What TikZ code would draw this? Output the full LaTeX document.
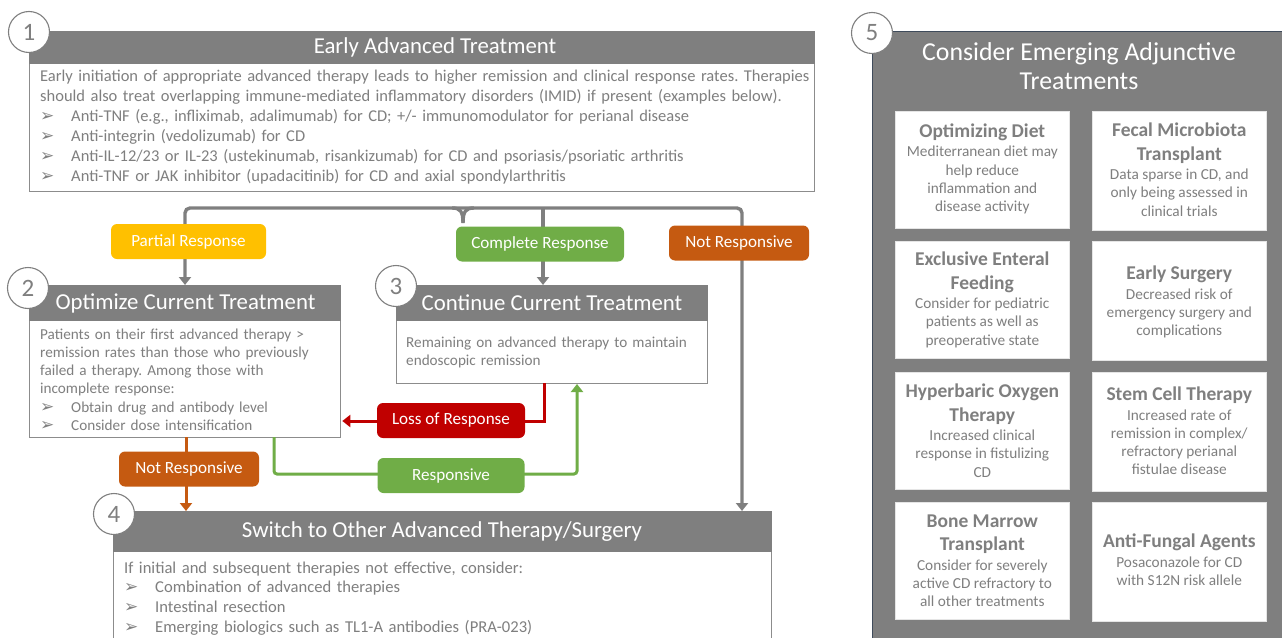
\documentclass[tikz,border=0pt]{standalone}
\usepackage{fontspec}
\setmainfont{Carlito}
\newfontfamily\dejavu{DejaVu Sans}
\usetikzlibrary{arrows.meta}
\definecolor{hdrgray}{HTML}{7F7F7F}
\definecolor{txtgray}{HTML}{7F7F7F}
\definecolor{bordergray}{HTML}{8C8C8C}
\definecolor{cgreen}{HTML}{70AD47}
\definecolor{cyellow}{HTML}{FFC000}
\definecolor{corange}{HTML}{C55A11}
\definecolor{cred}{HTML}{C00000}
\definecolor{panelgray}{HTML}{7F7F7F}
\definecolor{panelborder}{HTML}{3F4B5B}
\newcommand{\bul}{\makebox[31pt][l]{\dejavu\fontsize{17}{14}\selectfont ➢}}
\newcommand{\ibt}[1]{{\bfseries\fontsize{19.5}{22}\selectfont #1}}
\frenchspacing
\begin{document}
\begin{tikzpicture}[x=1pt,y=-1pt,
  hdr/.style={fill=hdrgray, draw=hdrgray, line width=1.3pt, anchor=north west, inner sep=0, text=white},
  bodybox/.style={fill=white, draw=bordergray, line width=1.3pt, anchor=north west, inner sep=0},
  numc/.style={circle, fill=white, draw=hdrgray, line width=1.1pt, minimum size=41pt, inner sep=0, text=txtgray, font=\fontsize{25}{25}\selectfont},
  lbl/.style={rounded corners=6pt, text=white, inner sep=0, minimum height=35pt, font=\fontsize{17.1}{17.1}\selectfont},
  conn/.style={line width=3.4pt, draw=hdrgray},
  tip/.style={-{Triangle[width=12pt,length=8pt]}},
  btxt/.style={anchor=north west, inner sep=0, align=left, text=txtgray},
  htxt/.style={text=white, inner sep=0, font=\fontsize{22.8}{22.8}\selectfont},
  ibox/.style={fill=white, draw=white!90!black, line width=0.6pt, anchor=north west, inner sep=0},
  itxt/.style={align=center, text=txtgray, inner sep=0, font=\fontsize{15.3}{18.3}\selectfont},
]
\useasboundingbox (0,0) rectangle (1282,637);
\clip (0,0) rectangle (1282,637);

% ---------- Box 1 ----------
\node[bodybox, minimum width=785pt, minimum height=128pt] (b1) at (29,63) {};
\node[hdr, minimum width=785pt, minimum height=32pt] (h1) at (29,31) {};
\node[htxt] (h1t) at (435,47) {Early Advanced Treatment};
\node[btxt, text width=780pt, font=\fontsize{16.5}{20}\selectfont] (t1) at (40,67.5) {\strut Early initiation of appropriate advanced therapy leads to higher remission and clinical response rates. Therapies\\
should also treat overlapping immune-mediated inflammatory disorders (IMID) if present (examples below).\\
\bul Anti-TNF (e.g., infliximab, adalimumab) for CD; +/- immunomodulator for perianal disease\\
\bul Anti-integrin (vedolizumab) for CD\\
\bul Anti-IL-12/23 or IL-23 (ustekinumab, risankizumab) for CD and psoriasis/psoriatic arthritis\\
\bul Anti-TNF or JAK inhibitor (upadacitinib) for CD and axial spondylarthritis};
\node[numc] (c1) at (29,32) {1};

% ---------- Box 2 ----------
\node[bodybox, minimum width=311pt, minimum height=117pt] (b2) at (29,320) {};
\node[hdr, minimum width=311pt, minimum height=35pt] (h2) at (29,285) {};
\node[htxt] (h2t) at (185.5,303) {Optimize Current Treatment};
\node[btxt, text width=305pt, font=\fontsize{15.2}{18.3}\selectfont] (t2) at (40,326) {\strut Patients on their first advanced therapy >\\
remission rates than those who previously\\
failed a therapy. Among those with\\
incomplete response:\\
\bul Obtain drug and antibody level\\
\bul Consider dose intensification};
\node[numc] (c2) at (28,288) {2};

% ---------- Box 3 ----------
\node[bodybox, minimum width=311pt, minimum height=63pt] (b3) at (396,320) {};
\node[hdr, minimum width=311pt, minimum height=35pt] (h3) at (396,285) {};
\node[htxt] (h3t) at (552,303) {Continue Current Treatment};
\node[btxt, text width=300pt, font=\fontsize{15.2}{18}\selectfont] (t3) at (406,334.5) {\strut Remaining on advanced therapy to maintain\\
endoscopic remission};
\node[numc] (c3) at (396,286) {3};

% ---------- Box 4 ----------
\node[bodybox, minimum width=658pt, minimum height=120pt] (b4) at (113,551) {};
\node[hdr, minimum width=658pt, minimum height=40pt] (h4) at (113,511) {};
\node[htxt] (h4t) at (442,532) {Switch to Other Advanced Therapy/Surgery};
\node[btxt, text width=640pt, font=\fontsize{16.6}{19.8}\selectfont] (t4) at (124,559) {\strut If initial and subsequent therapies not effective, consider:\\
\bul Combination of advanced therapies\\
\bul Intestinal resection\\
\bul Emerging biologics such as TL1-A antibodies (PRA-023)};
\node[numc] (c4) at (114,514) {4};

% ---------- connectors ----------
\coordinate (brL) at (185,208);
\coordinate (brM) at (463,208);
\coordinate (brC) at (543,208);
\coordinate (brR) at (742,208);
\draw[conn, rounded corners=5pt, {Triangle[width=12pt,length=8pt]}-{Triangle[width=12pt,length=8pt]}]
  (h2.north -| brL) -- (brL) -- (brR) -- (h4.north -| brR);
\draw[conn, tip] (brC) -- (h3.north -| brC);
\draw[conn] ([xshift=-11pt]brM) .. controls ([xshift=-3pt]brM) and ([yshift=-3pt]brM) .. ([yshift=-15pt]brM);
\draw[conn] ([xshift=11pt]brM) .. controls ([xshift=3pt]brM) and ([yshift=-3pt]brM) .. ([yshift=-15pt]brM);

\coordinate (rtop) at (544,383);
\coordinate (gbot) at (274,437);
\coordinate (gtop) at (577,384);
\coordinate (obot) at (186,437);
\draw[cred, line width=3pt, tip] (rtop) |- ([xshift=1pt]b2.east |- 0,421);
\draw[cgreen, line width=3pt, rounded corners=3pt, tip] (gbot) |- (577,474) -- (gtop);
\draw[corange, line width=3pt, tip] (obot) -- (h4.north -| obot);

% ---------- labels ----------
\node[lbl, fill=cyellow, minimum width=155pt] (pr) at (188.5,241.5) {Partial Response};
\node[lbl, fill=cgreen, minimum width=168pt] (cr) at (540,244) {Complete Response};
\node[lbl, fill=corange, minimum width=140pt] (nr1) at (739,243) {Not Responsive};
\node[lbl, fill=cred, minimum width=148pt] (lor) at (451,420.5) {Loss of Response};
\node[lbl, fill=cgreen, minimum width=147pt] (resp) at (451,475.5) {Responsive};
\node[lbl, fill=corange, minimum width=140pt] (nr2) at (189,469) {Not Responsive};

% ---------- Box 5 panel ----------
\node[fill=panelgray, draw=panelborder, line width=1pt, anchor=north west, inner sep=0, minimum width=430pt, minimum height=640pt] (p5) at (872,31) {};
\node[text=white, inner sep=0, align=center, font=\fontsize{25.8}{29}\selectfont] (p5t) at (1079,66.5) {Consider Emerging Adjunctive\\Treatments};
\node[numc] (c5) at (872,33) {5};

% inner boxes
\node[ibox, minimum width=174pt, minimum height=117pt] (i1) at (895,111) {};
\node[ibox, minimum width=174pt, minimum height=119pt] (i2) at (1092,111) {};
\node[ibox, minimum width=174pt, minimum height=117pt] (i3) at (895,241) {};
\node[ibox, minimum width=174pt, minimum height=119pt] (i4) at (1092,241) {};
\node[ibox, minimum width=174pt, minimum height=117pt] (i5) at (895,372) {};
\node[ibox, minimum width=174pt, minimum height=119pt] (i6) at (1092,372) {};
\node[ibox, minimum width=174pt, minimum height=117pt] (i7) at (895,502) {};
\node[ibox, minimum width=174pt, minimum height=119pt] (i8) at (1092,502) {};

\node[itxt] (i1t) at ([yshift=1pt]i1.center) {\ibt{Optimizing Diet}\\[1.5pt]Mediterranean diet may\\help reduce\\inflammation and\\disease activity};
\node[itxt] (i2t) at ([yshift=1pt]i2.center) {\ibt{Fecal Microbiota}\\[5pt]\ibt{Transplant}\\[1pt]Data sparse in CD, and\\only being assessed in\\clinical trials};
\node[itxt] (i3t) at ([yshift=0pt]i3.center) {\ibt{Exclusive Enteral}\\[5pt]\ibt{Feeding}\\[1pt]Consider for pediatric\\patients as well as\\preoperative state};
\node[itxt] (i4t) at ([yshift=-1pt]i4.center) {\ibt{Early Surgery}\\[1.5pt]Decreased risk of\\emergency surgery and\\complications};
\node[itxt] (i5t) at ([yshift=0pt]i5.center) {\ibt{Hyperbaric Oxygen}\\[5pt]\ibt{Therapy}\\[1pt]Increased clinical\\response in fistulizing\\CD};
\node[itxt] (i6t) at ([yshift=1pt]i6.center) {\ibt{Stem Cell Therapy}\\[1.5pt]Increased rate of\\remission in complex/\\refractory perianal\\fistulae disease};
\node[itxt] (i7t) at ([yshift=0pt]i7.center) {\ibt{Bone Marrow}\\[5pt]\ibt{Transplant}\\[1pt]Consider for severely\\active CD refractory to\\all other treatments};
\node[itxt] (i8t) at ([yshift=2pt]i8.center) {\ibt{Anti-Fungal Agents}\\[1.5pt]Posaconazole for CD\\with S12N risk allele};
\end{tikzpicture}
\end{document}
